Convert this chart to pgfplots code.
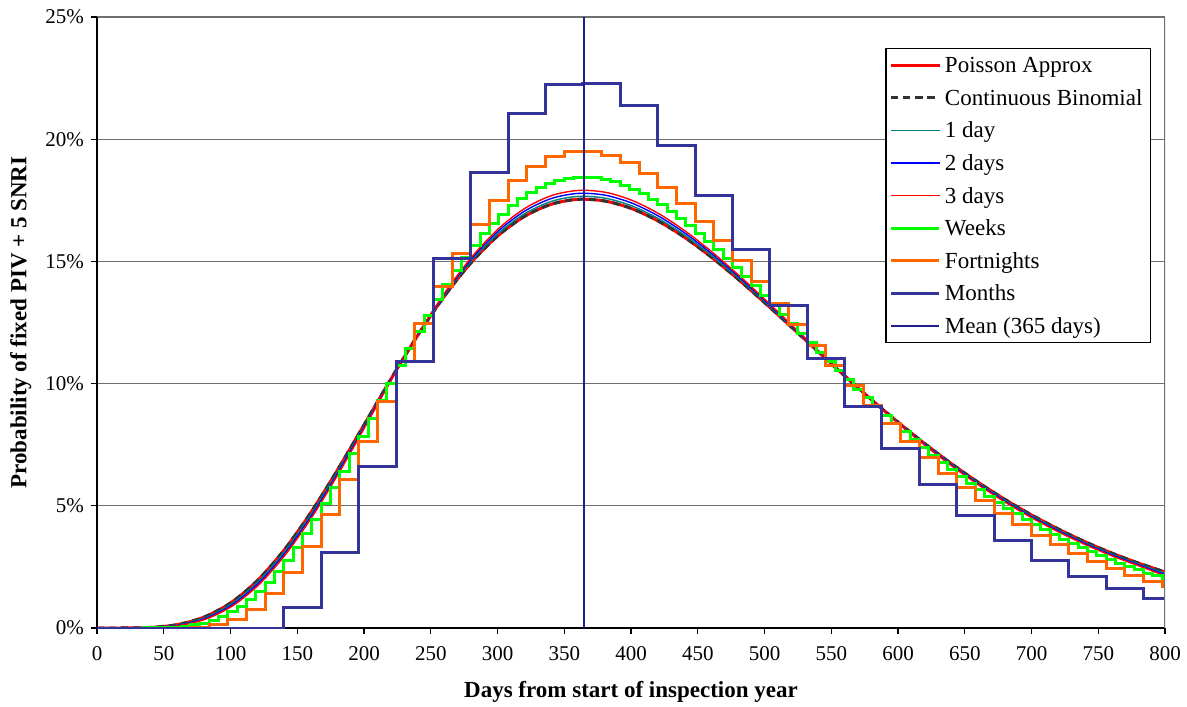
\documentclass[border=0pt]{standalone}
\usepackage{pgfplots}
\pgfplotsset{compat=1.18}
\usepackage{pgfplotstable}
\usepackage{fontspec}
\setmainfont{Liberation Serif}
\definecolor{tealc}{HTML}{008080}
\definecolor{greenc}{HTML}{00FF00}
\definecolor{orangec}{HTML}{FF6600}
\definecolor{monthc}{HTML}{333399}
\definecolor{meanc}{HTML}{1F1F8F}
\definecolor{gridc}{HTML}{6F6F6F}

% smooth curves (values in %); t1,t2,t3 = day of the step curves
\pgfplotstableread{
t pois t1 d1 t2 d2 t3 d3
0 0 0.5 0 1 0 1.5 0
20 0.00098 20.5 0.00063 21 0.00041 21.5 0.00027
40 0.02380 40.5 0.01978 41 0.01643 41.5 0.01365
60 0.13742 60.5 0.12387 61 0.11166 61.5 0.10065
80 0.44026 80.5 0.41297 81 0.38734 81.5 0.36335
100 1.0216 100.5 0.98066 101 0.94138 101.5 0.90367
120 1.9329 120.5 1.8831 121 1.8346 121.5 1.7874
140 3.1765 140.5 3.1259 141 3.0760 141.5 3.0270
160 4.7091 160.5 4.6668 161 4.6248 161.5 4.5833
180 6.4522 180.5 6.4267 181 6.4013 181.5 6.3760
200 8.3083 200.5 8.3061 201 8.3037 201.5 8.3015
220 10.174 220.5 10.198 221 10.223 221.5 10.247
240 11.953 240.5 12.004 241 12.056 241.5 12.108
260 13.561 260.5 13.637 261 13.714 261.5 13.792
280 14.936 280.5 15.034 281 15.132 281.5 15.230
300 16.034 300.5 16.147 301 16.261 301.5 16.375
320 16.835 320.5 16.957 321 17.080 321.5 17.204
340 17.334 340.5 17.459 341 17.585 341.5 17.711
360 17.539 360.5 17.661 361 17.784 361.5 17.907
380 17.475 380.5 17.589 381 17.704 381.5 17.820
400 17.172 400.5 17.275 401 17.378 401.5 17.482
420 16.664 420.5 16.752 421 16.841 421.5 16.930
440 15.989 440.5 16.061 441 16.133 441.5 16.205
460 15.183 460.5 15.238 461 15.292 461.5 15.347
480 14.282 480.5 14.319 481 14.357 481.5 14.395
500 13.318 500.5 13.339 501 13.360 501.5 13.381
520 12.320 520.5 12.326 521 12.331 521.5 12.337
540 11.313 540.5 11.305 541 11.297 541.5 11.289
560 10.318 560.5 10.298 561 10.278 561.5 10.259
580 9.350 580.5 9.320 581 9.291 581.5 9.261
600 8.422 600.5 8.384 601 8.347 601.5 8.310
620 7.545 620.5 7.501 621 7.458 621.5 7.415
640 6.724 640.5 6.676 641 6.628 641.5 6.580
660 5.962 660.5 5.911 661 5.860 661.5 5.810
680 5.263 680.5 5.210 681 5.159 681.5 5.107
700 4.626 700.5 4.573 701 4.521 701.5 4.469
720 4.050 720.5 3.998 721 3.946 721.5 3.896
740 3.531 740.5 3.480 741 3.430 741.5 3.381
760 3.068 760.5 3.019 761 2.972 761.5 2.924
780 2.656 780.5 2.610 781 2.565 781.5 2.520
800 2.292 799.5 2.249 799 2.206 798.5 2.165
}\smoothdata

\pgfplotstableread{
t v
0 0
35 0.000811
42 0.004398
49 0.013917
56 0.033552
63 0.068254
70 0.12342
77 0.20457
84 0.31706
91 0.46582
98 0.65513
105 0.88846
112 1.16839
119 1.49648
126 1.87336
133 2.29863
140 2.77095
147 3.28815
154 3.84722
161 4.44447
168 5.07573
175 5.73628
182 6.42104
189 7.12472
196 7.84186
203 8.56696
210 9.29456
217 10.01931
224 10.73607
231 11.43991
238 12.12620
245 12.79065
252 13.42933
259 14.03871
266 14.61564
273 15.15740
280 15.66165
287 16.12650
294 16.55041
301 16.93225
308 17.27125
315 17.56699
322 17.81938
329 18.02861
336 18.19517
343 18.31979
350 18.40344
357 18.44728
364 18.45266
371 18.42106
378 18.35411
385 18.25354
392 18.12116
399 17.95885
406 17.76854
413 17.55218
420 17.31174
427 17.04918
434 16.76646
441 16.46550
448 16.14820
455 15.81639
462 15.47186
469 15.11634
476 14.75150
483 14.37893
490 14.00013
497 13.61657
504 13.22959
511 12.84049
518 12.45046
525 12.06062
532 11.67201
539 11.28561
546 10.90230
553 10.52288
560 10.14809
567 9.77861
574 9.41501
581 9.05786
588 8.70761
595 8.36467
602 8.02940
609 7.70211
616 7.38305
623 7.07241
630 6.77037
637 6.47703
644 6.19250
651 5.91681
658 5.64998
665 5.39199
672 5.14281
679 4.90236
686 4.67057
693 4.44732
700 4.23249
707 4.02594
714 3.82751
721 3.63705
728 3.45437
735 3.27928
742 3.11161
749 2.95114
756 2.79768
763 2.65101
770 2.51095
777 2.37726
784 2.24974
791 2.12819
798 2.01238
800 2.01238
}\weeks

\pgfplotstableread{
t v
0 0
70 0.025944
84 0.12581
98 0.35589
112 0.76703
126 1.3948
140 2.2546
154 3.3407
168 4.6286
182 6.0790
196 7.6427
210 9.2655
224 10.8924
238 12.4716
252 13.9566
266 15.3085
280 16.4968
294 17.4996
308 18.3034
322 18.9024
336 19.2976
350 19.4959
364 19.5086
378 19.3507
392 19.0395
406 18.5939
420 18.0335
434 17.3779
448 16.6461
462 15.8562
476 15.0248
490 14.1672
504 13.2970
518 12.4261
532 11.5647
546 10.7213
560 9.9030
574 9.1154
588 8.3628
602 7.6483
616 6.9740
630 6.3411
644 5.7500
658 5.2005
672 4.6919
686 4.2230
700 3.7923
714 3.3982
728 3.0387
742 2.7118
756 2.4154
770 2.1474
784 1.9057
798 1.6883
800 1.6883
}\fortnights

\pgfplotstableread{
t v
0 0
140 0.8302
168 3.0706
196 6.6250
224 10.8904
252 15.1048
280 18.6223
308 21.0457
336 22.2401
364 22.2782
392 21.3627
420 19.7532
448 17.7114
476 15.4672
504 13.2017
532 11.0445
560 9.0777
588 7.3446
616 5.8591
644 4.6151
672 3.5936
700 2.7690
728 2.1133
756 1.5988
784 1.1998
800 1.1998
}\months

\begin{document}
\begin{tikzpicture}
\begin{axis}[name=ax,
  scale only axis, width=534pt, height=305.5pt,
  xmin=0, xmax=800, ymin=0, ymax=25,
  xtick={0,50,...,800}, ytick={0,5,...,25},
  /pgf/number format/assume math mode=true,
  yticklabel={\pgfmathprintnumber{\tick}\%},
  axis lines*=left, axis line style={-, black, line width=0.6pt},
  tick align=outside, major tick length=3pt, tick style={black, line width=0.6pt},
  ymajorgrids, grid style={gridc, line width=0.55pt},
  ticklabel style={font=\fontsize{10.5}{12.5}\selectfont},
  xticklabel style={yshift=-2.5pt},
  xlabel={Days from start of inspection year},
  ylabel={Probability of fixed PIV + 5 SNRI},
  label style={font=\bfseries\fontsize{11.5}{14}\selectfont},
  xlabel style={at={(axis description cs:0.5,-0.105)}, anchor=center},
  ylabel style={at={(axis description cs:-0.0715,0.5)}, anchor=center},
  legend cell align=left,
  legend image code/.code={\draw[mark repeat=2,mark phase=2,#1] plot coordinates {(0pt,0pt) (12pt,0pt) (24pt,0pt)};},
  legend style={at={(1,1)}, anchor=north east, xshift=-7pt, yshift=-15.5pt,
    draw=black, line width=0.6pt, fill=white,
    font=\fontsize{11.5}{13.8}\selectfont, inner xsep=2pt, inner ysep=0.8pt,
    nodes={inner sep=2pt, text height=9.3pt, text depth=1.8pt}, row sep=1.2pt},
]
\addplot[red, line width=1.5pt, smooth] table[x=t, y=pois] {\smoothdata};
\addlegendentry{Poisson Approx}
\addplot[black!80, line width=1.5pt, dash pattern=on 3.5pt off 2.5pt, smooth] table[x=t, y=pois] {\smoothdata};
\addlegendentry{Continuous Binomial}
\addplot[tealc, line width=0.7pt, smooth] table[x=t1, y=d1] {\smoothdata};
\addlegendentry{1 day}
\addplot[blue, line width=0.7pt, smooth] table[x=t2, y=d2] {\smoothdata};
\addlegendentry{2 days}
\addplot[red, line width=0.7pt, smooth] table[x=t3, y=d3] {\smoothdata};
\addlegendentry{3 days}
\addplot[greenc, line width=1.5pt, const plot] table[x=t, y=v] {\weeks};
\addlegendentry{Weeks}
\addplot[orangec, line width=1.5pt, const plot] table[x=t, y=v] {\fortnights};
\addlegendentry{Fortnights}
\addplot[monthc, line width=1.5pt, const plot] table[x=t, y=v] {\months};
\addlegendentry{Months}
\addplot[meanc, line width=0.8pt] coordinates {(365,0) (365,25)};
\addlegendentry{Mean (365 days)}
\draw[gridc, line width=0.55pt] (rel axis cs:1,0) -- (rel axis cs:1,1);
\end{axis}
\pgfresetboundingbox
\path ([shift={(-48.5pt,-39pt)}]ax.south west) rectangle ([shift={(11pt,8.5pt)}]ax.north east);
\end{tikzpicture}
\end{document}
